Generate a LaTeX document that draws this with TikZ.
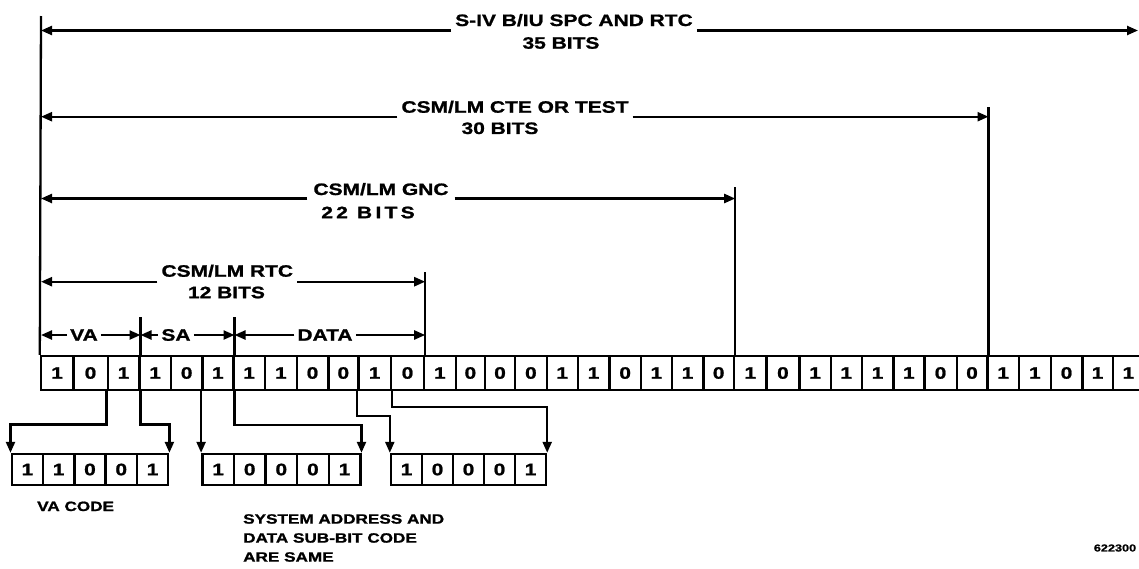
\documentclass[tikz,border=0pt]{standalone}
\usepackage{fontspec}
\newfontfamily\lblfont{Liberation Sans}[FakeStretch=1.27, FakeBold=1.2]
\usetikzlibrary{arrows.meta}
\tikzset{
  ln/.style={line width=2.3pt},
  arr/.style={ln, -{Triangle[length=11pt,width=9pt]}},
  lbl/.style={font=\lblfont\bfseries\fontsize{16.5}{18}\selectfont, inner xsep=4pt, inner ysep=0pt},
  cell/.style={draw, line width=2.4pt, minimum height=34pt, inner sep=0pt, font=\lblfont\bfseries\fontsize{16.5}{18}\selectfont},
  subcell/.style={draw, line width=2.4pt, minimum height=31pt, inner sep=0pt, font=\lblfont\bfseries\fontsize{16.5}{18}\selectfont},
  note/.style={font=\lblfont\bfseries\fontsize{13.5}{19}\selectfont, inner sep=0pt, align=left},
}
\begin{document}
\begin{tikzpicture}[x=1pt,y=-1pt]
\useasboundingbox (0,0) rectangle (1139,568);
\fill[white] (0,0) rectangle (1139,568);
\clip (0,0) rectangle (1139,568);
% bit row
\foreach \l/\r/\v [count=\i from 0] in {41/73.3/1, 73.3/107.7/0, 107.7/139.3/1, 139.3/171/1, 171/202.3/0, 202.3/233.3/1, 233.3/265/1, 265/296.7/1, 296.7/328.3/0, 328.3/358.3/0, 358.3/391/1, 391/424/0, 424/455.7/1, 455.7/485/0, 485/515/0, 515/546.7/0, 546.7/577.7/1, 577.7/609.3/1, 609.3/641/0, 641/671.7/1, 671.7/703.3/1, 703.3/734/0, 734/766.5/1, 766.5/799.3/0, 799.3/830.7/1, 830.7/861.7/1, 861.7/893.3/1, 893.3/924.3/1, 924.3/956.7/0, 956.7/987.3/0, 987.3/1019/1, 1019/1050.7/1, 1050.7/1082.3/0, 1082.3/1112.7/1, 1112.7/1144/1}
  \node[cell, minimum width={\r-\l}] (c\i) at ({(\l+\r)/2},373) {\v};
% lower boxes
\foreach \v [count=\i from 0] in {1,1,0,0,1}
  \node[subcell, minimum width=31.3pt] (p\i) at ({11.7+31.3*\i+15.65},469.5) {\v};
\foreach \v [count=\i from 0] in {1,0,0,0,1}
  \node[subcell, minimum width=31.6pt] (q\i) at ({202.3+31.6*\i+15.8},469.5) {\v};
\foreach \v [count=\i from 0] in {1,0,0,0,1}
  \node[subcell, minimum width=31pt] (r\i) at ({391+31*\i+15.5},469.5) {\v};
% connectors to lower boxes
\draw[arr] (c2.south west) -- ++(0,33.3) -| (p0.north west);
\draw[arr] (c2.south east) -- ++(0,33.3) -| (p4.north east);
\draw[arr] (c5.south west) -- (q0.north west);
\draw[arr] (c5.south east) -- ++(0,34) -| (q4.north east);
\draw[arr] (c10.south west) -- ++(0,25) -| (r0.north west);
\draw[arr] (c10.south east) -- ++(0,15.7) -| (r4.north east);
% dimension verticals
\coordinate (top) at (41,16);
\draw[ln] (c0.north west) -- (top);
\draw[ln] (c29.north east) -- ++(0,-248);
\draw[ln] (c21.north east) -- ++(0,-168);
\draw[ln] (c11.north east) -- ++(0,-83);
\draw[ln] (c2.north east) -- ++(0,-38);
\draw[ln] (c5.north east) -- ++(0,-38);
% 35 bits
\coordinate (e35) at (1138,30.5);
\node[lbl, anchor=base] (t35) at (574,26) {S-IV B/IU SPC AND RTC};
\node[lbl] (n35) at (561,43) {35 BITS};
\draw[arr] (t35.west |- e35) -- (top |- e35);
\draw[arr] (t35.east |- e35) -- (e35);
% 30 bits
\coordinate (y30) at (0,116.7);
\node[lbl, anchor=base] (t30) at (515,112.7) {CSM/LM CTE OR TEST};
\node[lbl] (n30) at (500,128.3) {30 BITS};
\draw[arr] (t30.west |- y30) -- (top |- y30);
\draw[arr] (t30.east |- y30) -- (c29.north east |- y30);
% 22 bits
\coordinate (y22) at (0,198.5);
\node[lbl, anchor=base, inner xsep=6pt] (t22) at (381,195) {CSM/LM GNC};
\node[lbl, font=\lblfont\bfseries\fontsize{16.5}{18}\selectfont\addfontfeature{LetterSpace=20}] (n22) at (368,212.5) {22 BITS};
\draw[arr] (t22.west |- y22) -- (top |- y22);
\draw[arr] (t22.east |- y22) -- (c21.north east |- y22);
% 12 bits
\coordinate (y12) at (0,281.7);
\node[lbl, anchor=base] (t12) at (227.3,276.7) {CSM/LM RTC};
\node[lbl] (n12) at (226.5,292.5) {12 BITS};
\draw[arr] (t12.west |- y12) -- (top |- y12);
\draw[arr] (t12.east |- y12) -- (c11.north east |- y12);
% VA / SA / DATA
\node[lbl, inner xsep=3pt] (va) at (84,335) {VA};
\node[lbl, inner xsep=3pt] (sa) at (176,335) {SA};
\node[lbl, inner xsep=3pt] (data) at (325,335) {DATA};
\draw[arr] (va.west) -- (va.west -| top);
\draw[arr] (va.east) -- (va.east -| c2.north east);
\draw[arr] (sa.west) -- (sa.west -| c2.north east);
\draw[arr] (sa.east) -- (sa.east -| c5.north east);
\draw[arr] (data.west) -- (data.west -| c5.north east);
\draw[arr] (data.east) -- (data.east -| c11.north east);
% notes
\node[note, anchor=base west] (vac) at (37,511) {VA CODE};
\node[note, anchor=north west] (sac) at (243,514) {SYSTEM ADDRESS AND\\DATA SUB-BIT CODE\\ARE SAME};
\node[font=\lblfont\bfseries\fontsize{10}{12}\selectfont, inner sep=0pt] (fig) at (1115,548) {622300};
\end{tikzpicture}
\end{document}
